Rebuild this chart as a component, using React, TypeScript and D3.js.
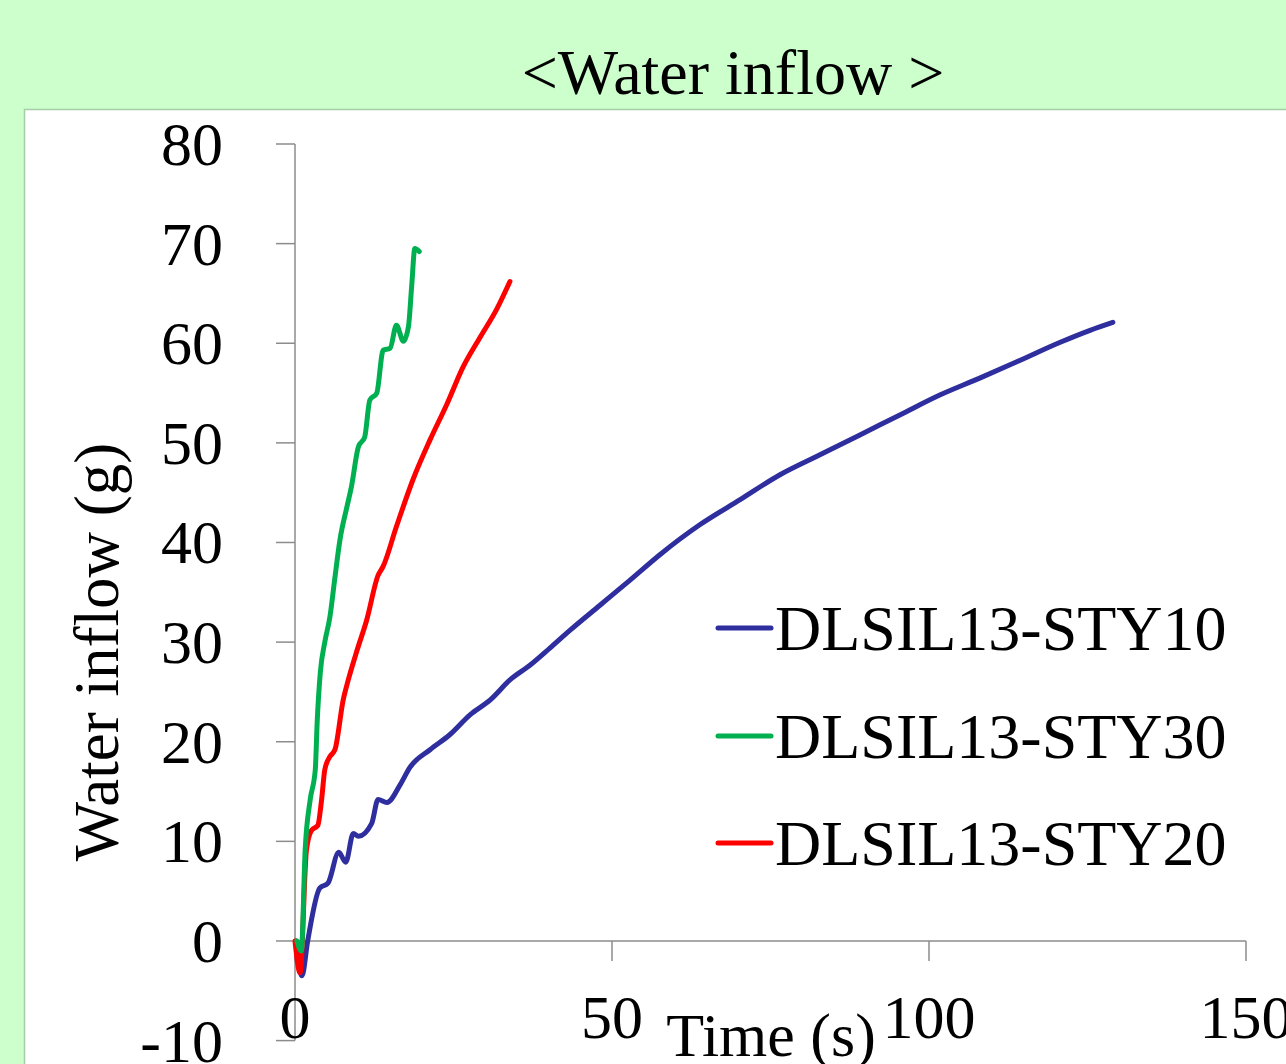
import React from "react";
import * as d3 from "d3";

const yTicks = [-10, 0, 10, 20, 30, 40, 50, 60, 70, 80];
const xTicks = [0, 50, 100, 150];

const seriesNames = ["DLSIL13-STY10", "DLSIL13-STY30", "DLSIL13-STY20"];
const seriesColors = ["#2E2E9E", "#00B050", "#FF0000"];

const sty10T = [0.2, 1.1, 2.0, 3.9, 5.2, 6.9, 8.0, 9.2, 10.0, 12.1, 13.1, 14.5, 16.6, 18.1, 21.3, 24.4, 27.6, 30.8, 33.9, 37.1, 40.2, 43.4, 48.1, 52.8, 57.6, 63.9, 70.2, 76.5, 82.8, 89.1, 95.4, 101.7, 108, 114.4, 120.7, 125.4, 129.0];
const sty10V = [0, -3.5, 0, 5.3, 5.8, 8.9, 7.9, 10.8, 10.5, 11.8, 14.2, 13.9, 15.7, 17.4, 19.2, 20.7, 22.7, 24.2, 26.2, 27.7, 29.4, 31.2, 33.7, 36.2, 38.8, 41.8, 44.3, 46.8, 48.8, 50.8, 52.8, 54.8, 56.5, 58.3, 60.1, 61.3, 62.1];

const sty30T = [0.3, 1.0, 1.6, 2.4, 3.2, 3.5, 4.0, 4.7, 5.5, 6.3, 7.1, 8.2, 8.9, 10.0, 11.0, 11.8, 12.9, 13.9, 15.0, 16.0, 17.1, 17.9, 18.4, 18.9, 19.6];
const sty30V = [0, -1.0, 9.1, 14.2, 17.2, 22.0, 27.0, 30.0, 32.5, 36.5, 40.3, 43.6, 45.6, 49.6, 50.6, 54.3, 55.0, 59.3, 59.5, 61.8, 60.2, 61.7, 65.7, 69.5, 69.2];

const sty20T = [0, 0.8, 1.8, 2.6, 3.6, 4.2, 4.7, 5.5, 6.3, 7.6, 8.4, 9.8, 11.3, 13.1, 13.9, 16.0, 18.6, 21.3, 23.9, 26.5, 29.2, 31.8, 33.9];
const sty20V = [0, -3.2, 9.1, 11.1, 11.6, 14.2, 17.2, 18.5, 19.2, 24.2, 26.2, 29.2, 32.2, 36.7, 37.6, 41.6, 46.3, 50.3, 53.8, 57.6, 60.6, 63.4, 66.2];

const FONT = "'Liberation Serif', 'Times New Roman', serif";

export default function App() {
  const x = d3.scaleLinear().domain([0, 150]).range([295, 1246]);
  const y = d3.scaleLinear().domain([-10, 80]).range([1040.6, 144]);
  const line = d3
    .line<[number, number]>()
    .x((d) => x(d[0]))
    .y((d) => y(d[1]))
    .curve(d3.curveMonotoneX);

  const zip = (t: number[], v: number[]) => t.map((tt, i) => [tt, v[i]] as [number, number]);
  const series = [
    { name: seriesNames[0], color: seriesColors[0], data: zip(sty10T, sty10V) },
    { name: seriesNames[1], color: seriesColors[1], data: zip(sty30T, sty30V) },
    { name: seriesNames[2], color: seriesColors[2], data: zip(sty20T, sty20V) },
  ];
  const drawOrder = [0, 2, 1];
  const legendY = [628, 736, 843];
  const axisColor = "#8C8C8C";

  return (
    <svg
      width={1286}
      height={1064}
      style={{ position: "absolute", left: 0, top: 0, display: "block" }}
      fontFamily={FONT}
    >
      <rect x={0} y={0} width={1286} height={1064} fill="#CCFFCC" />
      <rect x={24.5} y={109.5} width={1300} height={1000} fill="#FFFFFF" stroke="#A8CCA8" strokeWidth={1.5} />
      <text x={733} y={94} fontSize={64} textAnchor="middle" fill="#000">
        {"<Water inflow >"}
      </text>

      {/* y axis */}
      <line x1={x(0)} x2={x(0)} y1={y(80)} y2={y(-10)} stroke={axisColor} strokeWidth={1.5} />
      {yTicks.map((t) => (
        <g key={"y" + t}>
          <line x1={276} x2={x(0)} y1={y(t)} y2={y(t)} stroke={axisColor} strokeWidth={1.5} />
          <text x={223} y={y(t) + 21} fontSize={62} textAnchor="end" fill="#000">
            {t}
          </text>
        </g>
      ))}
      {/* x axis */}
      <line x1={x(0)} x2={x(150)} y1={y(0)} y2={y(0)} stroke={axisColor} strokeWidth={1.5} />
      {xTicks.map((t) => (
        <g key={"x" + t}>
          <line x1={x(t)} x2={x(t)} y1={y(0)} y2={y(0) + 20} stroke={axisColor} strokeWidth={1.5} />
          <text x={x(t)} y={1038} fontSize={62} textAnchor="middle" fill="#000">
            {t}
          </text>
        </g>
      ))}
      <text x={771} y={1056} fontSize={62} textAnchor="middle" fill="#000">
        Time (s)
      </text>
      <text
        transform="translate(118,652) rotate(-90)"
        fontSize={63}
        textAnchor="middle"
        fill="#000"
      >
        Water inflow (g)
      </text>

      {drawOrder.map((i) => (
        <path
          key={series[i].name}
          d={line(series[i].data) || ""}
          fill="none"
          stroke={series[i].color}
          strokeWidth={5}
          strokeLinejoin="round"
          strokeLinecap="round"
        />
      ))}

      {series.map((s, i) => (
        <g key={"lg" + i}>
          <line x1={718} x2={771} y1={legendY[i]} y2={legendY[i]} stroke={s.color} strokeWidth={5} strokeLinecap="round" />
          <text x={775} y={legendY[i] + 22} fontSize={64} fill="#000">
            {s.name}
          </text>
        </g>
      ))}
    </svg>
  );
}
